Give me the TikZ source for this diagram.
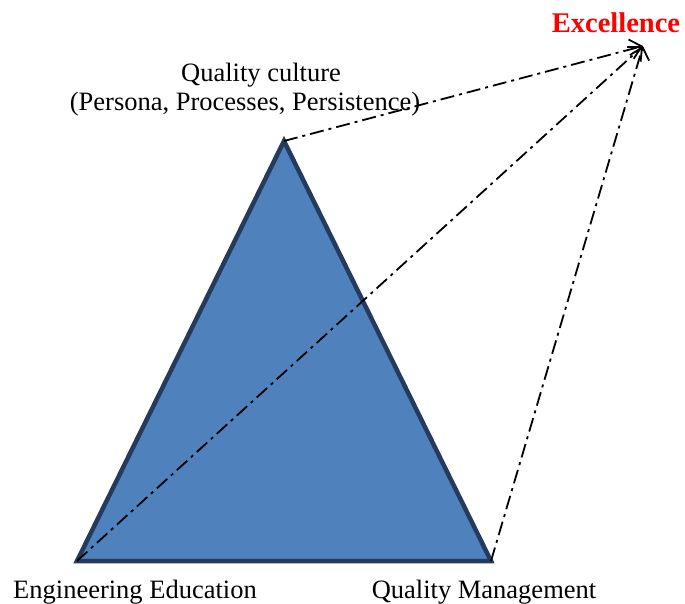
\documentclass[tikz,border=0pt]{standalone}
\usepackage{fontspec}
\setmainfont{Liberation Serif}
\usetikzlibrary{arrows.meta}
\definecolor{trifill}{HTML}{4F81BD}
\definecolor{triedge}{HTML}{243B5E}
\begin{document}
\begin{tikzpicture}[x=1pt,y=-1pt,
  lbl/.style={font=\fontsize{26.5}{29}\selectfont, inner sep=0pt, anchor=base},
  goal/.style={font=\fontsize{28.5}{31}\selectfont\bfseries, text=red, inner sep=0pt, anchor=base},
  link/.style={line width=1.8pt, dash pattern=on 14pt off 5pt on 3pt off 5pt,
    -{Straight Barb[length=11pt,width=20pt,line width=1.8pt]}}]
  \useasboundingbox (0,0) rectangle (685,603);
  % triangle corners and the target point
  \coordinate (top) at (284,141);
  \coordinate (bl) at (77,561);
  \coordinate (br) at (491,561);
  \coordinate (exc) at (643,46);
  \fill[trifill] (top) -- (bl) -- (br) -- cycle;
  \draw[triedge, line width=4.5pt, line join=miter] (top) -- (bl) -- (br) -- cycle;
  % labels
  \node[goal] (excl) at (616,32) {Excellence};
  \node[lbl] (qc1) at (261,81) {Quality culture};
  \node[lbl] (qc2) at (245,110) {(Persona, Processes, Persistence)};
  \node[lbl] (ee) at (135,598) {Engineering Education};
  \node[lbl] (qm) at (484,598) {Quality Management};
  % dash-dot connectors
  \draw[link] (top) -- (exc);
  \draw[link] (bl) -- (exc);
  \draw[link] (br) -- (exc);
\end{tikzpicture}
\end{document}
